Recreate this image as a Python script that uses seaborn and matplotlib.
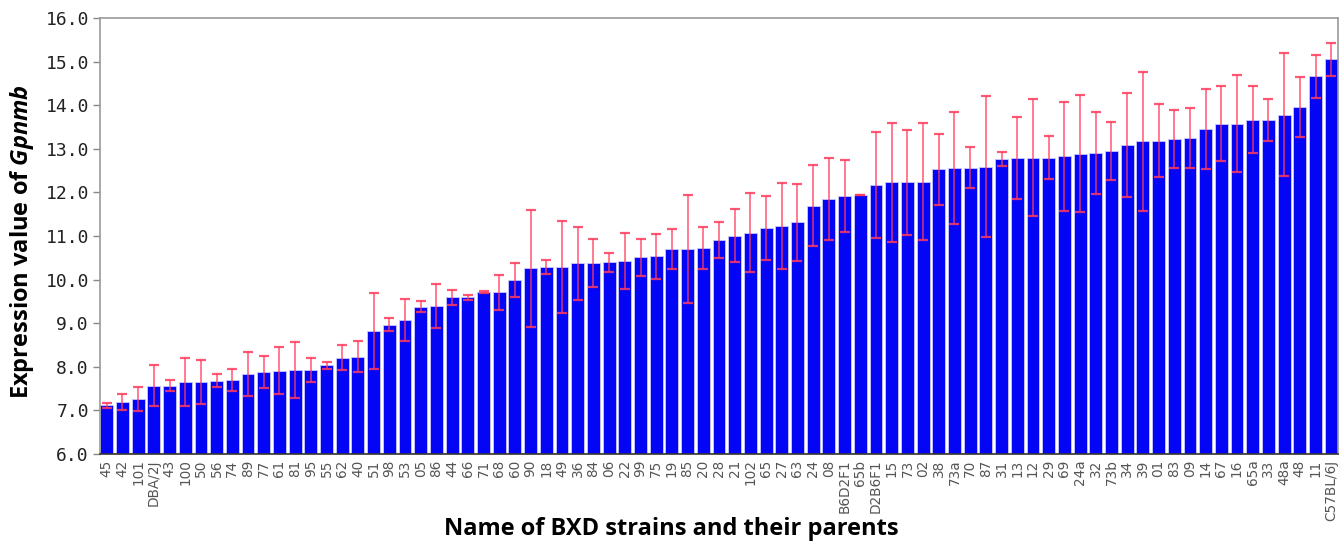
import matplotlib
matplotlib.use("Agg")
import matplotlib.pyplot as plt
import seaborn as sns
import pandas as pd

# Strains ordered by mean expression
strains = [
    "45", "42", "101", "DBA/2J", "43", "100", "50", "56", "74", "89",
    "77", "61", "81", "95", "55", "62", "40", "51", "98", "53",
    "05", "86", "44", "66", "71", "68", "60", "90", "18", "49",
    "36", "84", "06", "22", "99", "75", "19", "85", "20", "28",
    "21", "102", "65", "27", "63", "24", "08", "B6D2F1", "65b", "D2B6F1",
    "15", "73", "02", "38", "73a", "70", "87", "31", "13", "12",
    "29", "69", "24a", "32", "73b", "34", "39", "01", "83", "09",
    "14", "67", "16", "65a", "33", "48a", "48", "11", "C57BL/6J",
]

# Mean Gpnmb expression per strain
expression = [
    7.12, 7.19, 7.26, 7.57, 7.57, 7.65, 7.65, 7.68, 7.70, 7.83,
    7.88, 7.91, 7.93, 7.93, 8.04, 8.21, 8.23, 8.83, 8.96, 9.08,
    9.38, 9.40, 9.59, 9.59, 9.72, 9.71, 9.98, 10.26, 10.28, 10.29,
    10.37, 10.38, 10.40, 10.43, 10.51, 10.53, 10.71, 10.71, 10.72, 10.90,
    11.01, 11.08, 11.18, 11.23, 11.31, 11.69, 11.84, 11.92, 11.95, 12.17,
    12.23, 12.23, 12.25, 12.53, 12.56, 12.56, 12.59, 12.76, 12.78, 12.80,
    12.80, 12.83, 12.89, 12.91, 12.95, 13.09, 13.17, 13.19, 13.22, 13.25,
    13.45, 13.58, 13.58, 13.67, 13.67, 13.78, 13.96, 14.66, 15.05,
]

# Standard error of each strain mean
std_err = [
    0.06, 0.18, 0.27, 0.47, 0.13, 0.56, 0.50, 0.15, 0.25, 0.50,
    0.37, 0.54, 0.64, 0.27, 0.08, 0.28, 0.36, 0.87, 0.15, 0.48,
    0.12, 0.50, 0.17, 0.06, 0.03, 0.40, 0.39, 1.34, 0.16, 1.05,
    0.84, 0.55, 0.22, 0.64, 0.42, 0.52, 0.46, 1.24, 0.48, 0.41,
    0.60, 0.90, 0.74, 0.99, 0.88, 0.93, 0.94, 0.82, 0.00, 1.21,
    1.36, 1.20, 1.34, 0.82, 1.29, 0.47, 1.62, 0.16, 0.94, 1.34,
    0.50, 1.25, 1.35, 0.94, 0.66, 1.20, 1.60, 0.83, 0.67, 0.68,
    0.92, 0.86, 1.11, 0.76, 0.48, 1.41, 0.68, 0.50, 0.38,
]

y_ticks = [6.0, 7.0, 8.0, 9.0, 10.0, 11.0, 12.0, 13.0, 14.0, 15.0, 16.0]

df = pd.DataFrame({"strain": strains, "expression": expression, "se": std_err})

sns.set_theme(style="white")
plt.rcParams["font.family"] = ["Open Sans", "DejaVu Sans"]
plt.rcParams["mathtext.fontset"] = "custom"
plt.rcParams["mathtext.it"] = "Open Sans:italic:bold"
plt.rcParams["mathtext.rm"] = "Open Sans:bold"

fig = plt.figure(figsize=(13.44, 5.45), dpi=100)
ax = fig.add_axes([100 / 1344, 1 - 454 / 545, 1238 / 1344, 436 / 545])

sns.barplot(data=df, x="strain", y="expression", color="#0505F5",
            saturation=1, width=0.82, edgecolor="#C8C8FF", linewidth=0.6,
            errorbar=None, ax=ax)

# Bars are drawn from the 6.0 baseline of the axis
for patch, val in zip(ax.patches, expression):
    patch.set_y(6.0)
    patch.set_height(val - 6.0)

ax.errorbar(range(len(strains)), df["expression"], yerr=df["se"], fmt="none",
            ecolor="#FF3A5C", elinewidth=1.1, capsize=3.5, capthick=1.6,
            alpha=0.85, zorder=3)

ax.set_ylim(6.0, 16.0)
ax.set_xlim(-0.43, len(strains) - 0.57)
ax.set_yticks(y_ticks)
ax.set_yticklabels([f"{t:.1f}" for t in y_ticks], family="DejaVu Sans Mono",
                   fontsize=13, color="#222222")
ax.set_xticks(range(len(strains)))
ax.set_xticklabels(strains, rotation=90, fontsize=9.8, color="#555555",
                   family="DejaVu Sans")
ax.tick_params(axis="x", length=0, pad=4)
ax.tick_params(axis="y", length=5, width=1, color="#888888", pad=3,
               direction="out", left=True)

for side in ["left", "top", "right"]:
    ax.spines[side].set_color("#999999")
    ax.spines[side].set_linewidth(1.2)
ax.spines["bottom"].set_color("#333333")
ax.spines["bottom"].set_linewidth(1.2)

ax.set_xlabel("Name of BXD strains and their parents", fontsize=17,
              fontweight="bold", color="black")
ax.set_ylabel(r"Expression value of $\mathit{Gpnmb}$", fontsize=17,
              fontweight="bold", color="black")
ax.xaxis.set_label_coords((671 - 100) / 1238, -(517 - 454) / 436)
ax.yaxis.set_label_coords(-(100 - 36) / 1238, (454 - 242) / 436)

fig.savefig("out.png", dpi=100)
